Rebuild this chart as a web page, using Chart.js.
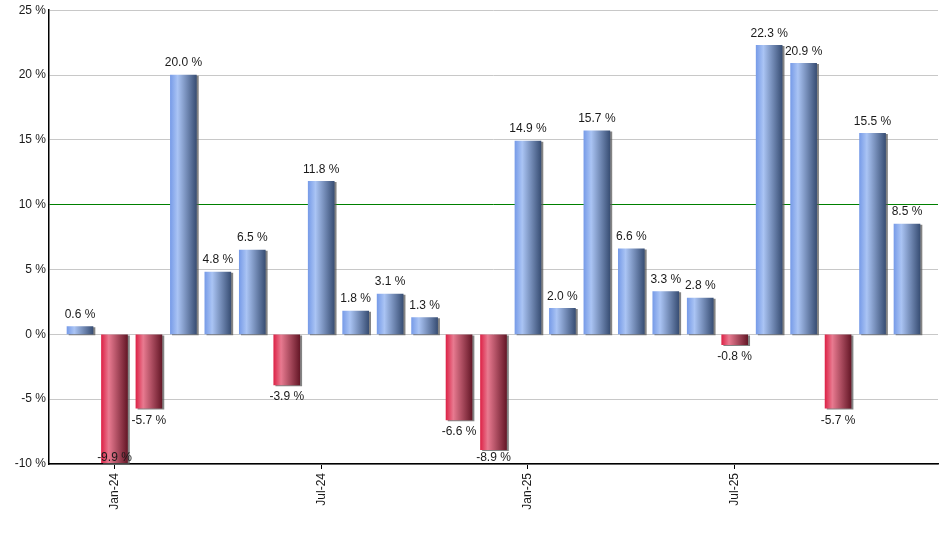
<!DOCTYPE html>
<html>
<head>
<meta charset="utf-8">
<script src="https://cdn.jsdelivr.net/npm/chart.js@4.4.1/dist/chart.umd.min.js"></script>
<style>
    html, body { margin: 0; padding: 0; background: #fff; }
    #wrap { width: 940px; height: 550px; }
</style>
</head>
<body>
<div id="wrap"><canvas id="returnsChart"></canvas></div>
<script>
// monthly categories, Dec-23 .. Dec-25
const months = [
    "Dec-23", "Jan-24", "Feb-24", "Mar-24", "Apr-24", "May-24", "Jun-24",
    "Jul-24", "Aug-24", "Sep-24", "Oct-24", "Nov-24", "Dec-24",
    "Jan-25", "Feb-25", "Mar-25", "Apr-25", "May-25", "Jun-25",
    "Jul-25", "Aug-25", "Sep-25", "Oct-25", "Nov-25", "Dec-25"
];

// monthly return, %
const returns = [
    0.6, -9.9, -5.7, 20.0, 4.8, 6.5, -3.9,
    11.8, 1.8, 3.1, 1.3, -6.6, -8.9,
    14.9, 2.0, 15.7, 6.6, 3.3, 2.8,
    -0.8, 22.3, 20.9, -5.7, 15.5, 8.5
];

// months that get an x tick label
const labelMonths = ["Jan-24", "Jul-24", "Jan-25", "Jul-25"];

const yTicks = [-10, -5, 0, 5, 10, 15, 20, 25];
const referenceLine = 10;
const barWidth = 26;

const points = returns.map(function (v, i) {
    return { x: i, y: v };
});

// horizontal gradient for each bar, built from the x scale position
function barFill(context) {
    const chart = context.chart;
    const xScale = chart.scales.x;
    const up = context.dataIndex === undefined || returns[context.dataIndex] >= 0;
    if (!xScale || context.dataIndex === undefined) {
        return up ? "#789ce8" : "#dd2448";
    }
    const cx = xScale.getPixelForValue(context.dataIndex);
    if (!isFinite(cx)) {
        return up ? "#789ce8" : "#dd2448";
    }
    const g = chart.ctx.createLinearGradient(cx - barWidth / 2, 0, cx + barWidth / 2, 0);
    if (up) {
        g.addColorStop(0, "#789ce8");
        g.addColorStop(0.28, "#aac4f4");
        g.addColorStop(1, "#394f75");
    } else {
        g.addColorStop(0, "#dd2448");
        g.addColorStop(0.28, "#e87a90");
        g.addColorStop(1, "#661828");
    }
    return g;
}

const barStyle = {
    id: "barStyle",
    beforeDatasetDraw: function (chart) {
        const ctx = chart.ctx;
        ctx.save();
        ctx.shadowColor = "rgba(90,90,90,0.75)";
        ctx.shadowOffsetX = 2;
        ctx.shadowOffsetY = 1;
        ctx.shadowBlur = 0;
    },
    afterDatasetDraw: function (chart) {
        chart.ctx.restore();
    },
    afterDatasetsDraw: function (chart) {
        const ctx = chart.ctx;
        const area = chart.chartArea;
        const meta = chart.getDatasetMeta(0);

        ctx.save();
        ctx.font = "12px 'Liberation Sans', Arial, sans-serif";
        ctx.fillStyle = "#1a1a1a";
        ctx.textAlign = "center";
        ctx.textBaseline = "middle";
        meta.data.forEach(function (bar, i) {
            const v = returns[i];
            let ty = v >= 0 ? bar.y - 12 : bar.y + 12;
            if (ty > area.bottom - 6) {
                ty = area.bottom - 6;
            }
            ctx.fillText(v.toFixed(1) + " %", bar.x, ty);
        });
        ctx.restore();
    }
};

new Chart(document.getElementById("returnsChart"), {
    type: "bar",
    data: {
        datasets: [
            {
                data: points,
                backgroundColor: barFill,
                barThickness: barWidth,
                borderWidth: 0
            }
        ]
    },
    options: {
        responsive: true,
        maintainAspectRatio: false,
        animation: false,
        layout: {
            padding: { top: 10, right: 2, left: 0, bottom: 0 }
        },
        plugins: {
            legend: { display: false },
            tooltip: { enabled: false }
        },
        scales: {
            x: {
                type: "linear",
                min: -0.9,
                max: 24.9,
                offset: false,
                afterBuildTicks: function (scale) {
                    scale.ticks = [];
                    months.forEach(function (m, i) {
                        if (labelMonths.indexOf(m) >= 0) {
                            scale.ticks.push({ value: i });
                        }
                    });
                },
                afterFit: function (scale) {
                    scale.height = 86;
                },
                ticks: {
                    autoSkip: false,
                    minRotation: 90,
                    maxRotation: 90,
                    padding: 4,
                    color: "#1a1a1a",
                    font: { family: "'Liberation Sans', Arial, sans-serif", size: 12 },
                    callback: function (value) {
                        return months[value];
                    }
                },
                grid: {
                    offset: false,
                    drawOnChartArea: false,
                    drawTicks: true,
                    tickLength: 5,
                    color: "#000"
                },
                border: { color: "#000", width: 1.5 }
            },
            y: {
                min: -10,
                max: 25,
                afterBuildTicks: function (scale) {
                    scale.ticks = yTicks.map(function (v) {
                        return { value: v };
                    });
                },
                afterFit: function (scale) {
                    scale.width = 49;
                },
                ticks: {
                    padding: 3,
                    color: "#1a1a1a",
                    font: { family: "'Liberation Sans', Arial, sans-serif", size: 12 },
                    callback: function (value) {
                        return value + " %";
                    }
                },
                grid: {
                    // the 10 % target line is the green grid line
                    color: function (context) {
                        return context.tick && context.tick.value === referenceLine ? "#008000" : "#c8c8c8";
                    },
                    drawTicks: false,
                    tickLength: 0
                },
                border: { color: "#000", width: 1.5 }
            }
        }
    },
    plugins: [barStyle]
});
</script>
</body>
</html>
